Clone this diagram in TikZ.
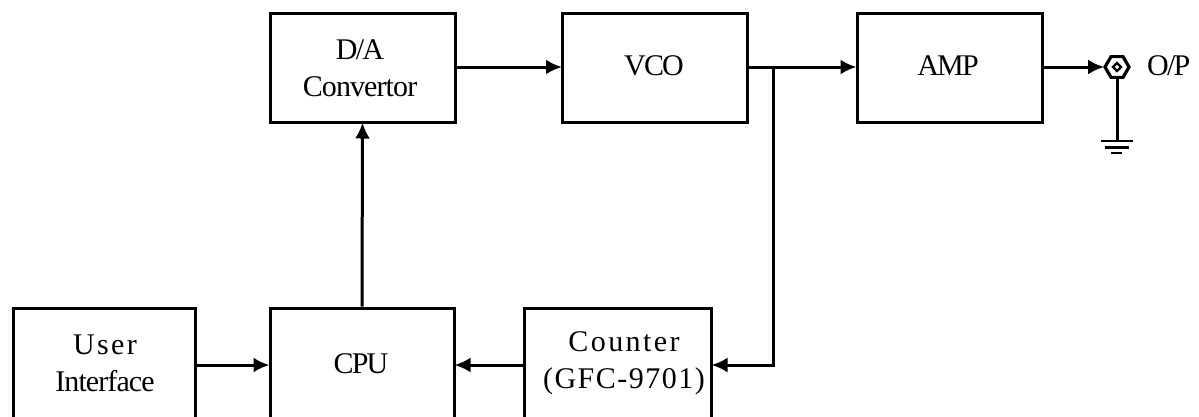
\documentclass[tikz,border=0pt]{standalone}
\usepackage{fontspec}
\setmainfont{Liberation Serif}
\newfontfamily\tightA[LetterSpace=-6]{Liberation Serif}
\newfontfamily\tightB[LetterSpace=-3]{Liberation Serif}
\newfontfamily\wideA[LetterSpace=8]{Liberation Serif}
\newfontfamily\wideB[LetterSpace=5]{Liberation Serif}
\usetikzlibrary{arrows.meta,shapes.geometric}
\tikzset{
  blockbox/.style={draw=black,line width=3pt,minimum width=185pt,minimum height=109pt,inner sep=0pt},
  lowbox/.style={draw=black,line width=3pt,minimum width=#1,minimum height=130pt,inner sep=0pt},
  lbl/.style={inner sep=0pt,align=center,font=\fontsize{30}{37}\selectfont},
  conn/.style={line width=3pt,draw=black},
  flow/.style={conn,-{Latex[length=16pt,width=15pt]},shorten >=-1pt},
  jack/.style={regular polygon,regular polygon sides=6,draw=black,line width=3.2pt,minimum size=24pt,inner sep=0pt},
  jackin/.style={diamond,draw=black,line width=2.4pt,minimum size=9pt,inner sep=0pt}
}
\begin{document}
\begin{tikzpicture}[x=1pt,y=-1pt]
\useasboundingbox (0,0) rectangle (1199,416);
\fill[white] (0,0) rectangle (1199,416);
\node[blockbox] (da) at (362.5,67.5) {};
\node[blockbox] (vco) at (655,67.5) {};
\node[blockbox] (amp) at (949.5,67.5) {};
\node[lowbox=182pt] (user) at (104,373) {};
\node[lowbox=184pt] (cpu) at (362,373) {};
\node[lowbox=187pt] (ctr) at (617.5,373) {};
\node[lbl] (datxt) at (360,68) {\tightA D/A\\\tightB Convertor};
\node[lbl] (vcotxt) at (654,66) {\tightA VCO};
\node[lbl] (amptxt) at (948,66) {\tightA AMP};
\node[lbl] (usertxt) at (105,363) {\wideA User\\\tightB Interface};
\node[lbl] (cputxt) at (361,364) {\tightA CPU};
\node[lbl] (ctrtxt) at (624,363) {\wideA Counter\\\wideB (GFC-9701)};
\node[jack] (jk) at (1117,67) {};
\node[jackin] (jki) at (1117,67) {};
\node[lbl,anchor=west] (op) at (1147,66) {\tightA O/P};
\coordinate (junc) at (773,67);
\coordinate (gnd) at (1117,141);
\coordinate (g1a) at (1101,141); \coordinate (g1b) at (1133,141);
\coordinate (g2a) at (1105,147.5); \coordinate (g2b) at (1129,147.5);
\coordinate (g3a) at (1111,153); \coordinate (g3b) at (1122,153);
\draw[flow] (da.east |- 0,67) -- (vco.west |- 0,67);
\draw[flow] (vco.east |- 0,67) -- (amp.west |- 0,67);
\draw[flow] (amp.east |- 0,67) -- (jk.west);
\draw[flow] (cpu.north) -- (da.south);
\draw[flow] (user.east |- 0,365) -- (cpu.west |- 0,365);
\draw[flow] (ctr.west |- 0,365) -- (cpu.east |- 0,365);
\draw[flow] (junc) -- (773,365) -- (ctr.east |- 0,365);
\draw[conn] (jk.south) -- (gnd);
\draw[conn,line width=2.6pt] (g1a) -- (g1b);
\draw[conn,line width=2.6pt] (g2a) -- (g2b);
\draw[conn,line width=2.6pt] (g3a) -- (g3b);
\end{tikzpicture}
\end{document}
